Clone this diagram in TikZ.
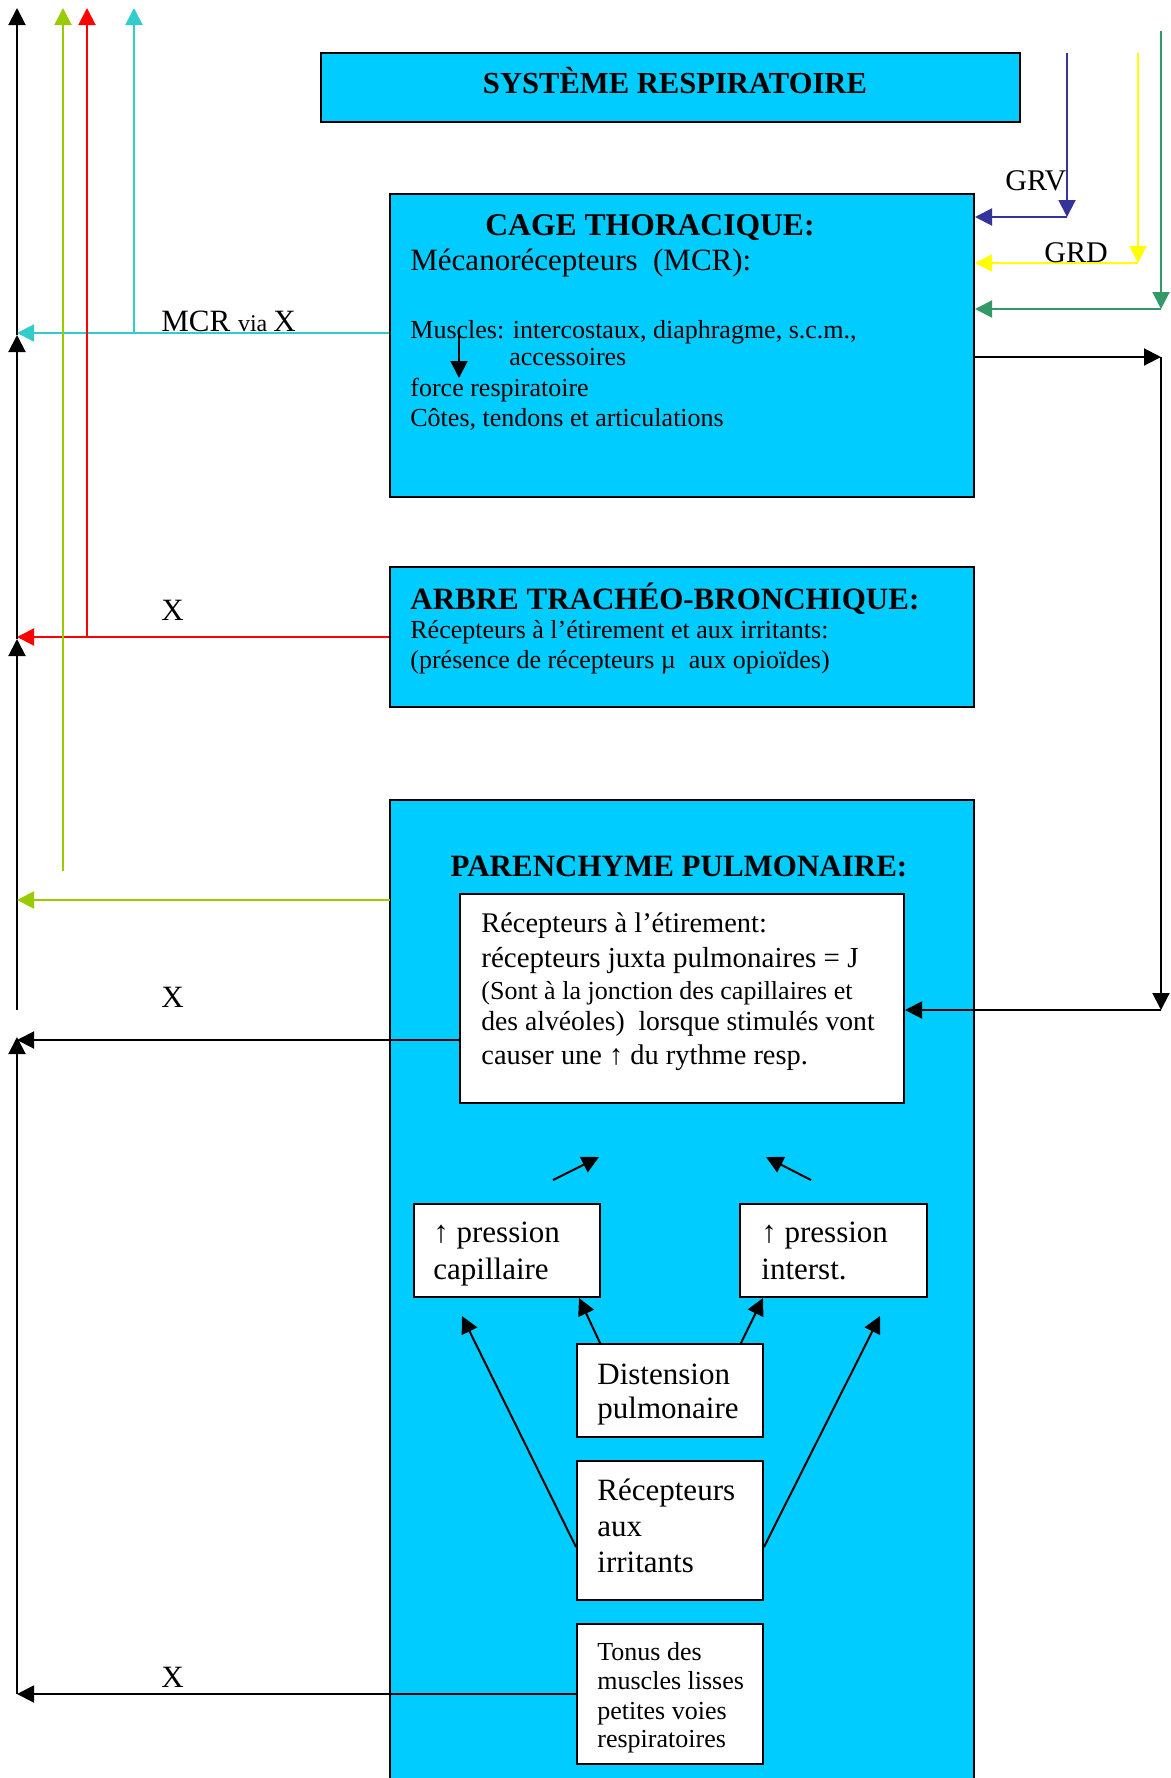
\documentclass[tikz,border=0pt]{standalone}
\usepackage{fontspec}
\setmainfont{Liberation Serif}
\usetikzlibrary{arrows.meta,fit}
\definecolor{boxcyan}{HTML}{00CCFF}
\definecolor{lcyan}{HTML}{33CCCC}
\definecolor{lred}{HTML}{FF0000}
\definecolor{lgreen}{HTML}{99CC00}
\definecolor{lblue}{HTML}{333399}
\definecolor{lyellow}{HTML}{FFFF00}
\definecolor{ldgreen}{HTML}{339966}
\begin{document}
\begin{tikzpicture}[x=0.5pt,y=-0.5pt,
 bigbox/.style={draw=black,line width=1pt,fill=boxcyan,inner sep=0pt},
 whitebox/.style={draw=black,line width=1pt,fill=white,inner sep=0pt},
 txt/.style={anchor=base west,inner sep=0pt},
 ctxt/.style={anchor=base,inner sep=0pt},
 conn/.style={line width=1pt,-{Triangle[length=8.5pt,width=8.5pt]}},
 plain/.style={line width=1pt},
 ttl/.style={font=\bfseries\fontsize{15.5}{18}\selectfont},
 fbig/.style={font=\fontsize{15.5}{18}\selectfont},
 fmid/.style={font=\fontsize{14.2}{17}\selectfont},
 fsmall/.style={font=\fontsize{13}{15}\selectfont}
]
\useasboundingbox (0,0) rectangle (1171,1778);

% ---- boxes
\node[bigbox, fit={(321,53)(1020,122)}] (sys) {};
\node[ctxt, font=\bfseries\fontsize{15.3}{17}\selectfont] (systxt) at (675,93) {SYSTÈME RESPIRATOIRE};

\node[bigbox, fit={(390,194)(974,497)}] (cage) {};
\node[ctxt, font=\bfseries\fontsize{15.8}{19}\selectfont] (cagettl) at (650,235) {CAGE THORACIQUE:};
\node[txt, fbig] (mcr) at (410,270) {Mécanorécepteurs\ \ (MCR):};
\node[txt, fsmall] (musc) at (410,338) {Muscles: intercostaux, diaphragme, s.c.m.,};
\node[txt, fsmall] (acc) at (509,365) {accessoires};
\node[txt, fsmall] (force) at (410,396) {force respiratoire};
\node[txt, fsmall] (cotes) at (410,426) {Côtes, tendons et articulations};
\coordinate (mtop) at (459,332);
\coordinate (mbot) at (459,378);
\draw[conn] (mtop) -- (mbot);

\node[bigbox, fit={(390,567)(974,707)}] (arbre) {};
\node[txt, ttl] (arbrettl) at (410,609) {ARBRE TRACHÉO-BRONCHIQUE:};
\node[txt, fsmall] (arb1) at (410,638) {Récepteurs à l’étirement et aux irritants:};
\node[txt, fsmall] (arb2) at (410,668) {(présence de récepteurs µ\ \ aux opioïdes)};

\node[fill=boxcyan, inner sep=0pt, fit={(390,800)(974,1778)}] (par) {};
\draw[plain] (par.south west) -- (par.north west) -- (par.north east) -- (par.south east);
\node[ctxt, ttl] (parttl) at (679,876) {PARENCHYME PULMONAIRE:};

\node[whitebox, fit={(460,894)(904,1103)}] (jbox) {};
\node[txt, fmid] (j1) at (481,932) {Récepteurs à l’étirement:};
\node[txt, font=\fontsize{14.5}{17}\selectfont] (j2) at (481,967) {récepteurs juxta pulmonaires = J};
\node[txt, fsmall] (j3) at (481,999) {(Sont à la jonction des capillaires et};
\node[txt, font=\fontsize{13.8}{17}\selectfont] (j4) at (481,1030) {des alvéoles)\ \ lorsque stimulés vont};
\node[txt, fmid] (j5) at (481,1064) {causer une ↑ du rythme resp.};

\node[whitebox, fit={(414,1204)(600,1297)}] (cap) {};
\node[txt, fbig] (cap1) at (433,1242) {↑ pression};
\node[txt, fbig] (cap2) at (433,1279) {capillaire};

\node[whitebox, fit={(740,1204)(927,1297)}] (int) {};
\node[txt, fbig] (int1) at (761,1242) {↑ pression};
\node[txt, fbig] (int2) at (761,1279) {interst.};

\node[whitebox, fit={(577,1344)(763,1437)}] (dist) {};
\node[txt, fbig] (dist1) at (597,1384) {Distension};
\node[txt, fbig] (dist2) at (597,1418) {pulmonaire};

\node[whitebox, fit={(577,1461)(763,1600)}] (irr) {};
\node[txt, fbig] (irr1) at (597,1500) {Récepteurs};
\node[txt, fbig] (irr2) at (597,1536) {aux};
\node[txt, fbig] (irr3) at (597,1572) {irritants};

\node[whitebox, fit={(577,1624)(763,1764)}] (tonus) {};
\node[txt, fsmall] (ton1) at (597,1660) {Tonus des};
\node[txt, fsmall] (ton2) at (597,1689) {muscles lisses};
\node[txt, fsmall] (ton3) at (597,1719) {petites voies};
\node[txt, fsmall] (ton4) at (597,1747) {respiratoires};

% ---- arrows inside parenchyme
\coordinate (sa1) at (553,1180); \coordinate (sa2) at (599,1157);
\coordinate (sb1) at (811,1180); \coordinate (sb2) at (766,1157);
\draw[conn] (sa1) -- (sa2);
\draw[conn] (sb1) -- (sb2);
\draw[conn] (dist.north -| 600,0) -- (cap.south -| 579,0);
\draw[conn] (dist.north -| 741,0) -- (int.south -| 763,0);
\coordinate (capt) at (462,1316);
\coordinate (intt) at (880,1316);
\draw[conn] (irr.west |- 0,1547) -- (capt);
\draw[conn] (irr.east |- 0,1547) -- (intt);

% ---- left side
\coordinate (Lt) at (17,8);
\coordinate (Lc) at (17,333);
\coordinate (Lr) at (17,637);
\coordinate (Lg) at (17,900);
\coordinate (Lj) at (17,1040);
\coordinate (Lb) at (17,1694);
\draw[conn] (17,1694) -- (17,1037);
\draw[conn] (17,1010) -- (17,639);
\draw[conn] (17,639) -- (17,335);
\draw[conn] (17,335) -- (Lt);

\draw[conn, lcyan] (cage.west |- Lc) -- (Lc);
\draw[conn, lcyan] (134,333) -- (134,8);
\draw[conn, lred] (arbre.west |- Lr) -- (Lr);
\draw[conn, lred] (87,637) -- (87,8);
\draw[conn, lgreen] (par.west |- Lg) -- (Lg);
\draw[conn, lgreen] (63,871) -- (63,8);
\draw[conn] (jbox.west |- Lj) -- (Lj);
\draw[conn] (tonus.west |- Lb) -- (Lb);

\node[txt] (mcrlab) at (161,331) {\fontsize{15.5}{18}\selectfont MCR \fontsize{12}{14}\selectfont via \fontsize{15.5}{18}\selectfont X};
\node[txt, fbig] (x1) at (161,620) {X};
\node[txt, fbig] (x2) at (161,1007) {X};
\node[txt, fbig] (x3) at (161,1687) {X};

% ---- right side
\coordinate (Rb) at (1067,217);
\coordinate (Ry) at (1138,263);
\coordinate (Rg) at (1161,309);
\coordinate (Rk) at (1161,357);
\coordinate (Rj) at (1161,1010);
\draw[conn, lblue] (1067,53) -- (Rb);
\draw[conn, lblue] (Rb) -- (cage.east |- Rb);
\draw[conn, lyellow] (1138,53) -- (Ry);
\draw[conn, lyellow] (Ry) -- (cage.east |- Ry);
\draw[conn, ldgreen] (1161,31) -- (Rg);
\draw[conn, ldgreen] (Rg) -- (cage.east |- Rg);
\draw[conn] (cage.east |- Rk) -- (Rk);
\draw[conn] (Rk) -- (Rj);
\draw[conn] (Rj) -- (jbox.east |- Rj);

\node[txt, font=\fontsize{15}{18}\selectfont] (grv) at (1005,190) {GRV};
\node[txt, font=\fontsize{15}{18}\selectfont] (grd) at (1044,262) {GRD};
\end{tikzpicture}
\end{document}
